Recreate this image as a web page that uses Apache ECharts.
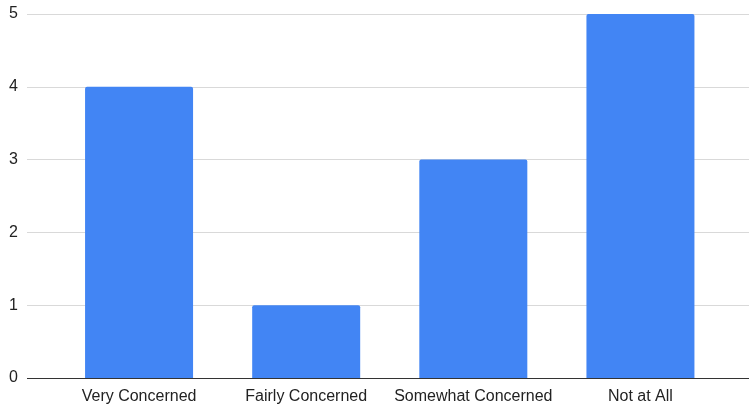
<!DOCTYPE html>
<html>
<head>
<meta charset="utf-8">
<script src="https://cdn.jsdelivr.net/npm/echarts@6/dist/echarts.min.js"></script>
<style>
  html, body { margin: 0; padding: 0; background: #fff; }
  #chart { width: 749px; height: 409px; }
</style>
</head>
<body>
<div id="chart"></div>
<script>
// Concern level survey: number of responses per category
const categories = ['Very Concerned', 'Fairly Concerned', 'Somewhat Concerned', 'Not at All'];
const responses = [4, 1, 3, 5];
const yTicks = [0, 1, 2, 3, 4, 5];

const FONT = '"Liberation Sans", Arial, sans-serif';
const TEXT = '#222222';
const TOP = 14, BOTTOM = 31;

const chart = echarts.init(document.getElementById('chart'));
chart.setOption({
  animation: false,
  backgroundColor: '#ffffff',
  grid: [
    // full-width grid carrying the value axis, gridlines and baseline
    { left: 27, right: 0, top: TOP, bottom: BOTTOM },
    // inner grid carrying the category bars
    { left: 55.5, right: 25, top: TOP, bottom: BOTTOM }
  ],
  xAxis: [
    {
      gridIndex: 0, type: 'value', min: 0, max: 1,
      axisLabel: { show: false }, axisTick: { show: false }, splitLine: { show: false },
      axisLine: { show: false }
    },
    {
      gridIndex: 1, type: 'category', data: categories,
      axisLine: { show: false }, axisTick: { show: false },
      axisLabel: { color: TEXT, fontFamily: FONT, fontSize: 16, margin: 11, interval: 0 }
    }
  ],
  yAxis: [
    {
      gridIndex: 0, type: 'value', min: yTicks[0], max: yTicks[yTicks.length - 1], interval: 1,
      axisLine: { show: false }, axisTick: { show: false },
      axisLabel: { color: TEXT, fontFamily: FONT, fontSize: 16, margin: 9 },
      splitLine: { lineStyle: { color: '#d9d9d9', width: 1 } }
    },
    {
      gridIndex: 1, type: 'value', min: yTicks[0], max: yTicks[yTicks.length - 1], interval: 1,
      show: false
    }
  ],
  series: [
    {
      type: 'line', xAxisIndex: 0, yAxisIndex: 0,
      data: [], silent: true,
      markLine: {
        silent: true, symbol: 'none', label: { show: false },
        lineStyle: { color: '#333333', width: 1.2, type: 'solid' },
        data: [{ yAxis: 0 }]
      }
    },
    {
      type: 'bar', xAxisIndex: 1, yAxisIndex: 1,
      data: responses, barWidth: 108,
      itemStyle: { color: '#4285F4', borderRadius: [2, 2, 0, 0] },
      z: 1
    }
  ]
});
</script>
</body>
</html>
